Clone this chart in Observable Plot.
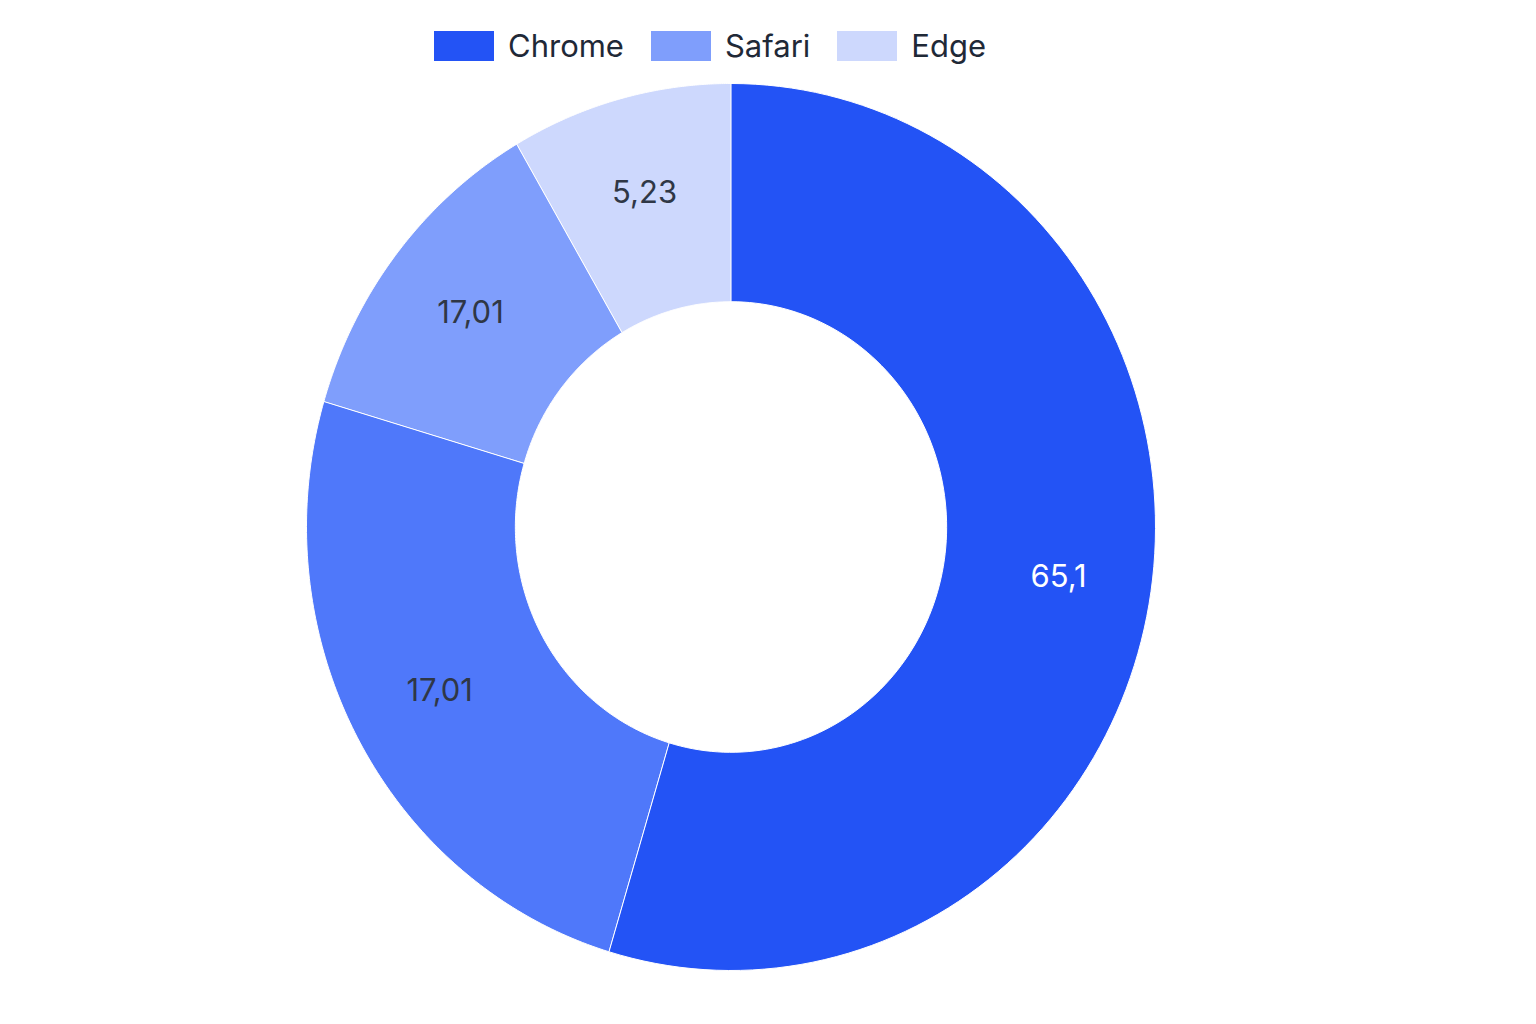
<!DOCTYPE html>
<html>
<head>
<meta charset="utf-8">
<script src="https://cdn.jsdelivr.net/npm/d3@7"></script>
<script src="https://cdn.jsdelivr.net/npm/@observablehq/plot@0.6"></script>
<style>
  body { margin: 0; background: #fff; font-family: Inter, "Noto Sans", sans-serif; }
  #legend { position: absolute; top: 31px; left: 434px; display: flex; align-items: center; height: 30px; }
  .item { display: flex; align-items: center; margin-right: 27px; }
  .sw { width: 60px; height: 30px; margin-right: 14px; }
  .lab { font-size: 31px; color: #1f2937; line-height: 30px; }
  #chart { position: absolute; top: 76px; left: 0; }
</style>
</head>
<body>
<div id="legend"></div>
<div id="chart"></div>
<script>
// Slices in drawing order (clockwise from 12 o'clock)
const sliceNames  = ["Chrome", "Unlabelled", "Safari", "Edge"];
// Angular shares (percent of the ring)
const sliceShares = [54.6, 24.9, 12.0, 8.4];
// Value labels as printed on the slices
const sliceLabels = ["65,1", "17,01", "17,01", "5,23"];
const sliceColors = ["#2353F5", "#4F78FA", "#7F9EFC", "#CDD8FD"];
const labelOnDark = [true, false, false, false];
// Legend entries shown above the chart
const legendNames  = ["Chrome", "Safari", "Edge"];
const legendColors = ["#2353F5", "#7F9EFC", "#CDD8FD"];

const innerRatio = 0.508;
const labelRadius = 0.78;

// legend
const legend = document.getElementById("legend");
legendNames.forEach((n, i) => {
  const it = document.createElement("div");
  it.className = "item";
  const sw = document.createElement("span");
  sw.className = "sw";
  sw.style.background = legendColors[i];
  const lb = document.createElement("span");
  lb.className = "lab";
  lb.textContent = n;
  it.appendChild(sw); it.appendChild(lb);
  legend.appendChild(it);
});

// pie geometry
const arcs = d3.pie().sort(null).value(d => d)(sliceShares);
const ringPts = [];
const labelPts = [];
arcs.forEach((a, i) => {
  const n = 120;
  for (let k = 0; k <= n; k++) {
    const t = a.startAngle + (a.endAngle - a.startAngle) * k / n;
    ringPts.push({name: sliceNames[i], x: Math.sin(t), y: -Math.cos(t)});
  }
  for (let k = n; k >= 0; k--) {
    const t = a.startAngle + (a.endAngle - a.startAngle) * k / n;
    ringPts.push({name: sliceNames[i], x: innerRatio * Math.sin(t), y: -innerRatio * Math.cos(t)});
  }
  const m = (a.startAngle + a.endAngle) / 2;
  labelPts.push({label: sliceLabels[i], dark: labelOnDark[i], x: labelRadius * Math.sin(m), y: -labelRadius * Math.cos(m)});
});

const chart = Plot.plot({
  width: 1536,
  height: 948,
  style: {fontFamily: "Inter, 'Noto Sans', sans-serif", background: "white"},
  x: {domain: [-1, 1], range: [306, 1155], axis: null},
  y: {domain: [-1, 1], range: [7, 894], axis: null},
  color: {domain: sliceNames, range: sliceColors},
  marks: [
    Plot.line(ringPts, {x: "x", y: "y", z: "name", fill: "name", stroke: "white", strokeWidth: 1, curve: "linear-closed"}),
    Plot.text(labelPts.filter(d => d.dark), {x: "x", y: "y", text: "label", fill: "white", fontSize: 31, fontFamily: "Inter"}),
    Plot.text(labelPts.filter(d => !d.dark), {x: "x", y: "y", text: "label", fill: "#2f3746", fontSize: 31, fontFamily: "Inter"})
  ]
});
document.getElementById("chart").appendChild(chart);
</script>
</body>
</html>
